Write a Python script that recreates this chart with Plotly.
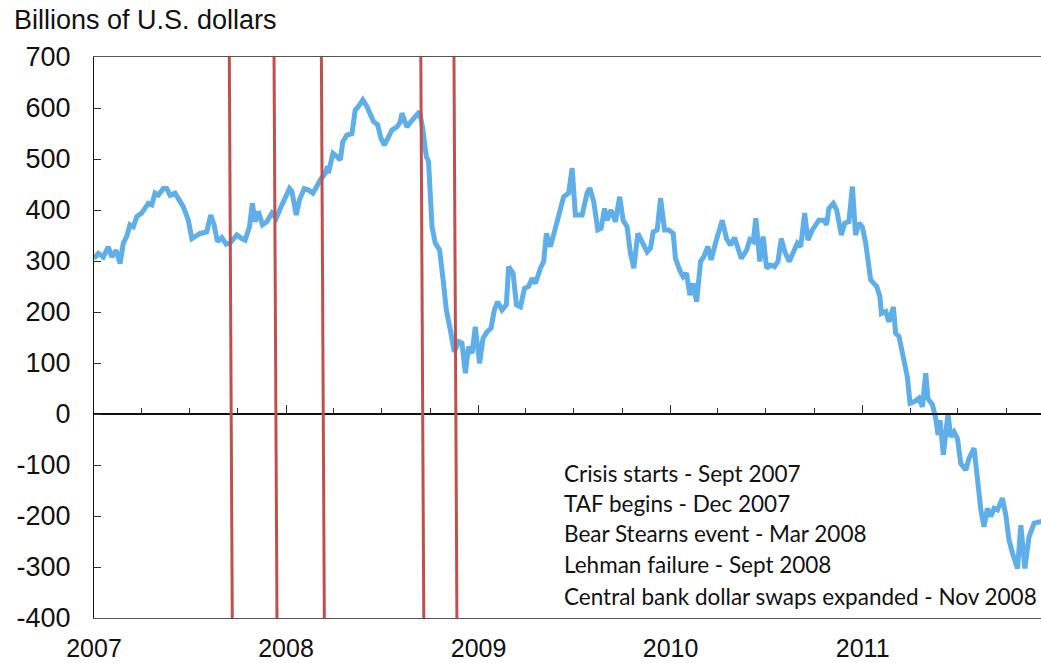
import numpy as np
import pandas as pd
import plotly.graph_objects as go

months = [0.0, 0.27, 0.58, 0.89, 1.11, 1.38, 1.63, 1.83, 2.04, 2.25, 2.46, 2.67, 2.98, 3.19, 3.39, 3.61,
          3.81, 4.02, 4.33, 4.54, 4.75, 5.06, 5.27, 5.58, 5.89, 6.11, 6.31, 6.63, 7.04, 7.29, 7.5, 7.71,
          7.98, 8.25, 8.5, 8.92, 9.23, 9.44, 9.71, 9.89, 10.06, 10.27, 10.52, 10.79, 11.11, 11.38, 11.63,
          11.94, 12.21, 12.36, 12.63, 12.83, 13.13, 13.39, 13.67, 13.96, 14.13, 14.44, 14.58, 14.64, 14.92,
          15.17, 15.38, 15.54, 15.79, 16.11, 16.31, 16.52, 16.79, 17.04, 17.25, 17.46, 17.71, 17.92, 18.13,
          18.39, 18.61, 18.92, 19.13, 19.23, 19.38, 19.54, 19.86, 20.17, 20.33, 20.53, 20.66, 20.75, 20.89,
          21.11, 21.31, 21.58, 21.83, 22.0, 22.25, 22.5, 22.77, 22.98, 23.19, 23.39, 23.61, 23.81, 24.08,
          24.29, 24.54, 24.79, 25.0, 25.21, 25.48, 25.75, 25.89, 26.17, 26.38, 26.63, 26.88, 27.14, 27.36,
          27.56, 27.88, 28.08, 28.25, 28.5, 28.81, 29.08, 29.33, 29.64, 29.86, 30.06, 30.48, 30.79, 30.96,
          31.21, 31.46, 31.67, 31.88, 32.04, 32.29, 32.56, 32.83, 33.04, 33.29, 33.5, 33.71, 33.96, 34.23,
          34.54, 34.75, 34.92, 35.17, 35.38, 35.63, 35.89, 36.17, 36.31, 36.58, 36.79, 37.0, 37.21, 37.42,
          37.63, 37.88, 38.08, 38.33, 38.54, 38.81, 39.23, 39.5, 39.75, 40.0, 40.21, 40.42, 40.75, 40.96,
          41.17, 41.33, 41.58, 41.79, 42.0, 42.25, 42.5, 42.71, 42.92, 43.14, 43.42, 43.71, 43.92, 44.13,
          44.38, 44.58, 44.86, 45.27, 45.58, 45.75, 45.89, 46.17, 46.38, 46.67, 46.88, 47.14, 47.36, 47.56,
          47.77, 47.98, 48.19, 48.5, 48.88, 49.08, 49.17, 49.44, 49.64, 49.92, 50.06, 50.27, 50.58, 50.79,
          50.96, 51.21, 51.52, 51.73, 51.94, 52.08, 52.36, 52.56, 52.71, 52.83, 53.04, 53.19, 53.33, 53.5,
          53.71, 53.92, 54.13, 54.44, 54.64, 54.96, 55.17, 55.38, 55.58, 55.79, 56.0, 56.21, 56.42, 56.73,
          56.94, 57.14, 57.36, 57.67, 57.88, 58.13, 58.39, 58.71, 59.13, 59.31]

# Billions of U.S. dollars
values = [305, 315, 308, 328, 308, 321, 295, 335, 348, 371, 367, 387, 394, 403, 413, 410,
          433, 429, 442, 442, 429, 433, 423, 406, 380, 344, 348, 354, 357, 390, 371, 338,
          346, 333, 335, 351, 344, 341, 367, 413, 377, 397, 371, 377, 394, 384, 403,
          423, 442, 436, 390, 420, 442, 439, 433, 449, 459, 472, 486, 472, 511,
          505, 498, 534, 547, 550, 596, 603, 616, 603, 586, 573, 567, 541, 527,
          544, 557, 563, 573, 590, 576, 563, 576, 590, 593, 560, 515, 505, 495,
          367, 335, 322, 256, 204, 165, 122, 142, 139, 80, 132, 119, 171, 99,
          148, 161, 168, 204, 220, 204, 214, 289, 276, 214, 210, 246, 250, 266,
          256, 286, 299, 354, 328, 364, 400, 426, 433, 482, 390, 390, 433, 443,
          416, 361, 364, 403, 380, 400, 377, 426, 380, 367, 315, 286, 354, 335,
          318, 325, 357, 361, 423, 361, 361, 354, 305, 282, 269, 276, 233, 256,
          220, 299, 308, 328, 302, 335, 380, 344, 331, 346, 328, 305, 321, 342,
          338, 384, 299, 348, 286, 292, 289, 299, 344, 318, 299, 321, 335, 328,
          394, 341, 361, 380, 380, 371, 403, 413, 400, 351, 374, 377, 446, 351,
          374, 367, 335, 263, 250, 230, 197, 201, 181, 210, 158, 152, 99, 73,
          21, 24, 31, 14, 80, 30, 18, -8, -41, -12, -80, -31, 1, -45,
          -35, -48, -97, -110, -87, -67, -126, -188, -221, -185, -201, -185, -188, -165,
          -198, -247, -273, -303, -218, -303, -241, -214, -211, -208]

event_dates = ["2007-09-18", "2007-12-12", "2008-03-11", "2008-09-16", "2008-11-18"]
event_labels = ["Crisis starts - Sept 2007", "TAF begins - Dec 2007", "Bear Stearns event - Mar 2008",
                "Lehman failure - Sept 2008", "Central bank dollar swaps expanded - Nov 2008"]

x_start, x_end = "2007-01-01", "2011-12-06"
y_min, y_max, y_step = -400, 700, 100
y_title = "Billions of U.S. dollars"

dates = pd.Timestamp("2007-01-01") + pd.to_timedelta(np.array(months) * 30.4375, unit="D")
y_ticks = list(range(y_min, y_max + 1, y_step))
y_ticktext = [str(v) for v in y_ticks]  # plain hyphen minus, as in the original

fig = go.Figure()
fig.add_trace(go.Scatter(x=dates, y=values, mode="lines",
                         line=dict(color="#5EAEE9", width=5), hoverinfo="skip",
                         showlegend=False))
# invisible copy so that the zero-line axis (xaxis2) is drawn
fig.add_trace(go.Scatter(x=dates, y=values, xaxis="x2", mode="lines",
                         line=dict(color="rgba(0,0,0,0)", width=0), hoverinfo="skip",
                         showlegend=False))

# event lines (slightly slanted as in the original)
slant = pd.Timedelta(days=2.8)
for d in event_dates:
    t = pd.Timestamp(d)
    fig.add_shape(type="line", xref="x", yref="paper", x0=t + slant, y0=0, x1=t - slant, y1=1,
                  line=dict(color="#C0504D", width=3), layer="above")

# event legend text
line_y = [-116, -175, -235, -296, -357]
for lab, yy in zip(event_labels, line_y):
    fig.add_annotation(text=lab, xref="paper", yref="y", x=0.4942, y=yy, xanchor="left",
                       yanchor="middle", showarrow=False,
                       font=dict(family="Lato", size=22.5, color="#111111"))

fig.add_annotation(text=y_title, xref="paper", yref="paper", x=-0.087, y=1.066,
                   xanchor="left", yanchor="middle", showarrow=False,
                   font=dict(family="Liberation Sans, Arial", size=27, color="#111111"))

fig.update_layout(
    width=1041, height=663,
    margin=dict(l=94, r=0, t=57, b=45),
    paper_bgcolor="white", plot_bgcolor="white",
    font=dict(family="Liberation Sans, Arial", color="#111111"),
    xaxis=dict(type="date", range=[x_start, x_end], tickformat="%Y", dtick="M12",
               tick0="2007-01-01", ticks="", showgrid=False, zeroline=False,
               showline=True, linecolor="#555555", linewidth=1.3, mirror=True,
               tickfont=dict(size=25), ticklabelstandoff=8, automargin=False),
    xaxis2=dict(type="date", range=[x_start, x_end], overlaying="x", anchor="free",
                position=(0 - y_min) / (y_max - y_min), side="bottom",
                showticklabels=False, showgrid=False, zeroline=False,
                showline=True, linecolor="#111111", linewidth=1.5,
                ticks="inside", ticklen=8, tickwidth=1.3, tickcolor="#333333",
                dtick="M12", tick0="2007-01-01", automargin=False,
                minor=dict(dtick="M3", tick0="2007-01-01", ticks="inside", ticklen=5,
                           tickwidth=1.3, tickcolor="#333333", showgrid=False)),
    yaxis=dict(range=[y_min, y_max], tickvals=y_ticks, ticktext=y_ticktext,
               ticks="inside", ticklen=7,
               tickwidth=1.3, tickcolor="#333333", showgrid=False, zeroline=False,
               showline=True, linecolor="#111111", linewidth=1.3,
               tickfont=dict(size=27), ticklabelstandoff=17, automargin=False),
)

fig.write_html("out.html", config={"displayModeBar": False},
               post_script="document.body.style.margin='0';document.body.style.overflow='hidden';")
